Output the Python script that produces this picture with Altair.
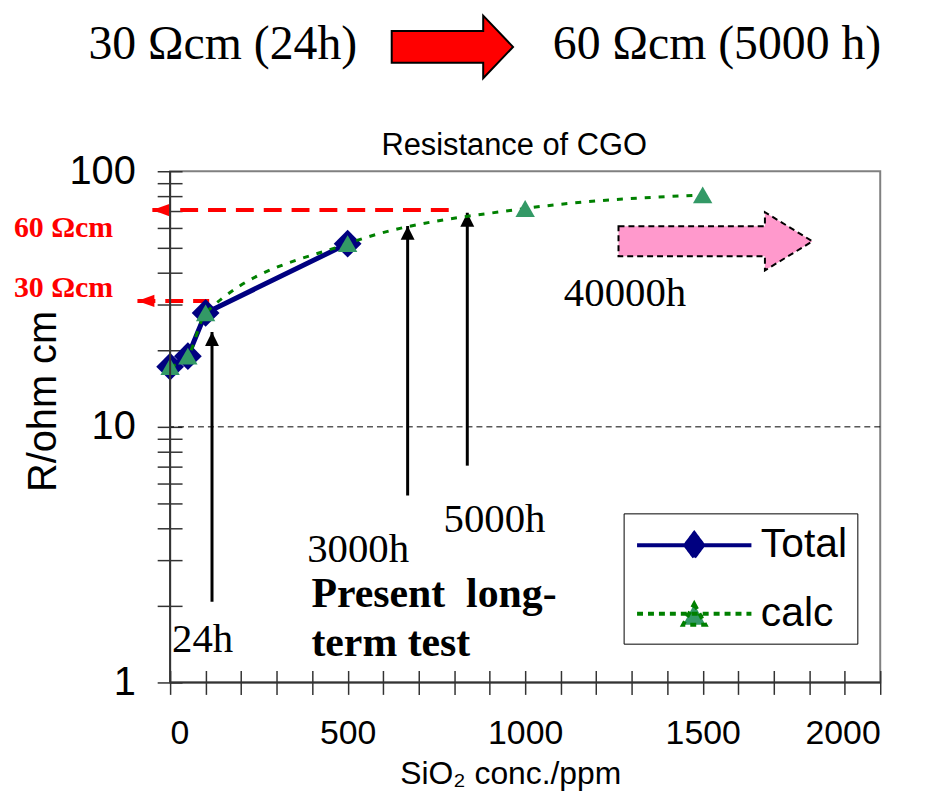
import altair as alt
import pandas as pd

# ---------------- data ----------------
total_x = [0, 50, 100, 500]
total_y = [17.2, 18.9, 27.9, 52.1]
calc_x = [0, 50, 100, 500, 1000, 1500]
calc_y = [17.2, 18.9, 27.9, 52.1, 71.5, 80.8]
series_names = ["Total", "calc"]

x_ticks = list(range(0, 2001, 100))
x_label_values = [0, 500, 1000, 1500, 2000]
y_ticks = [1, 2, 3, 4, 5, 6, 7, 8, 9, 10, 20, 30, 40, 50, 60, 70, 80, 90, 100]
y_label_values = [1, 10, 100]

# red dashed reference levels (labelled 60 / 30 Ohm cm)
ref_level = [70.5, 31.1]
ref_start = [-50, -92]
ref_end = [795, 110]
ref_text = ["60 Ωcm", "30 Ωcm"]
ref_text_x = [-440, -440]
ref_text_y = [55.4, 32.3]

# black vertical arrows (test durations)
arrow_x = [118, 669, 837]
arrow_tip = [23.5, 61.1, 68.8]
arrow_base = [2.07, 5.39, 7.05]

# annotation texts
ann_text = ["24h", "3000h", "5000h", "40000h"]
ann_x = [5.6, 386, 770, 1109]
ann_y = [1.32, 2.957, 3.87, 29.8]
bold_text = ["Present\u00a0 long-", "term test"]
bold_x = [398, 398]
bold_y = [1.975, 1.274]
header_text = ["30 Ωcm (24h)", "60 Ωcm (5000 h)"]
header_x = [-230, 1078]
header_y = [275, 275]
title_text = ["Resistance of CGO"]
title_x = [969]
title_y = [115.4]

# block arrows
pink_arrow_x = [1536]
pink_arrow_y = [53.2]
red_arrow_x = [795]
red_arrow_y = [306.5]

# ---------------- shapes ----------------
RED_ARROW = "M -1 -0.262 L 0.508 -0.262 L 0.508 -0.516 L 1 0 L 0.508 0.516 L 0.508 0.262 L -1 0.262 Z"
PINK_ARROW = "M -1 -0.155 L 0.51 -0.155 L 0.51 -0.30 L 1 0 L 0.51 0.30 L 0.51 0.155 L -1 0.155 Z"
UP_HEAD = "M 0 0 L 0.5 1 L -0.5 1 Z"
LEFT_HEAD = "M 0 0 L 1 -0.36 L 1 0.36 Z"
LEG_TOTAL = "M -2.875 0 L 2.875 0 M 0 -0.6 L 0.45 0 L 0 0.6 L -0.45 0 Z"
LEG_CALC = "M -2.875 0 L 2.875 0 M 0 -0.5 L 0.56 0.55 L -0.56 0.55 Z"

SERIF = "Liberation Serif"
SANS = "Liberation Sans"

total_df = pd.DataFrame({"x": total_x, "y": total_y})
calc_df = pd.DataFrame({"x": calc_x, "y": calc_y})
ref_df = pd.DataFrame({"lvl": ref_level, "x0": ref_start, "x1": ref_end,
                       "t": ref_text, "tx": ref_text_x, "ty": ref_text_y})
arr_df = pd.DataFrame({"x": arrow_x, "tip": arrow_tip, "base": arrow_base})
ann_df = pd.DataFrame({"t": ann_text, "x": ann_x, "y": ann_y})
bold_df = pd.DataFrame({"t": bold_text, "x": bold_x, "y": bold_y})
head_df = pd.DataFrame({"t": header_text, "x": header_x, "y": header_y})
title_df = pd.DataFrame({"t": title_text, "x": title_x, "y": title_y})
pink_df = pd.DataFrame({"x": pink_arrow_x, "y": pink_arrow_y})
red_df = pd.DataFrame({"x": red_arrow_x, "y": red_arrow_y})
leg_df = pd.DataFrame({"x": total_x[:2], "y": total_y[:2], "s": series_names})

xs = alt.Scale(domain=[0, 2000], nice=False)
ys = alt.Scale(type="log", domain=[1, 100], nice=False)

x_axis = alt.Axis(values=x_ticks, format="d",
                  labelExpr="datum.value % 500 == 0 ? datum.label : ''",
                  title="SiO₂ conc./ppm", grid=False, domain=False,
                  offset=-12, tickSize=24, tickColor="#333333", tickWidth=1.5,
                  labelFont=SANS, labelFontSize=34, labelColor="black", labelPadding=22,
                  titleFont=SANS, titleFontSize=32, titleFontWeight="normal",
                  titleColor="black", titlePadding=9, titleX=342)
y_axis = alt.Axis(values=y_ticks, format="d",
                  labelExpr="(datum.value == 1 || datum.value == 10 || datum.value == 100) ? datum.label : ''",
                  title="R/ohm cm", grid=False, domain=False,
                  offset=-12, tickSize=25, tickColor="#333333", tickWidth=1.5,
                  labelFont=SANS, labelFontSize=40, labelColor="black", labelPadding=22,
                  titleFont=SANS, titleFontSize=40, titleFontWeight="normal",
                  titleColor="black", titlePadding=6, titleY=231)

X = lambda f="x": alt.X(f, type="quantitative", scale=xs, axis=x_axis)
Y = lambda f="y": alt.Y(f, type="quantitative", scale=ys, axis=y_axis)

# axis lines and dashed gridline at 10
left_line = alt.Chart().mark_rule(color="#333333", strokeWidth=2).encode(
    x=alt.datum(0, scale=xs, axis=x_axis), y=alt.datum(1, scale=ys, axis=y_axis), y2=alt.datum(100))
bottom_line = alt.Chart().mark_rule(color="#333333", strokeWidth=2).encode(
    y=alt.datum(1, scale=ys, axis=y_axis), x=alt.datum(0, scale=xs, axis=x_axis), x2=alt.datum(2000))
grid10 = alt.Chart().mark_rule(color="black", strokeWidth=1, strokeDash=[6, 4]).encode(
    y=alt.datum(10, scale=ys, axis=y_axis))

# red reference lines + heads + labels
ref_lines = alt.Chart(ref_df).mark_rule(color="#ff0000", strokeWidth=4, strokeDash=[18, 10]).encode(
    x=X("x0"), x2="x1", y=Y("lvl"))
ref_heads = alt.Chart(ref_df).mark_point(shape=LEFT_HEAD, size=1156, filled=True,
                                         color="#ff0000", opacity=1).encode(x=X("x0"), y=Y("lvl"))
ref_labels = alt.Chart(ref_df).mark_text(font=SERIF, fontSize=30, fontWeight="bold", color="#ff0000",
                                         align="left", baseline="alphabetic").encode(
    x=X("tx"), y=Y("ty"), text="t:N")

# black arrows
arr_lines = alt.Chart(arr_df).mark_rule(color="black", strokeWidth=3).encode(
    x=X("x"), y=Y("base"), y2="tip")
arr_heads = alt.Chart(arr_df).mark_point(shape=UP_HEAD, size=784, filled=True,
                                         color="black", opacity=1).encode(x=X("x"), y=Y("tip"))

# series
total_line = alt.Chart(total_df).mark_line(color="#000080", strokeWidth=5).encode(x=X(), y=Y())
total_pts = alt.Chart(total_df).mark_point(shape="diamond", size=780, filled=True,
                                           color="#000080", opacity=1).encode(x=X(), y=Y())
calc_line = alt.Chart(calc_df).mark_line(color="#008000", strokeWidth=3, strokeDash=[6, 8],
                                         interpolate="monotone").encode(x=X(), y=Y())
calc_pts = alt.Chart(calc_df).mark_point(shape="triangle-up", size=380, filled=True,
                                         color="#339966", opacity=1).encode(x=X(), y=Y())

# block arrows
pink = alt.Chart(pink_df).mark_point(shape=PINK_ARROW, size=38025, filled=True, fill="#ff99cc",
                                     stroke="black", strokeWidth=2, strokeDash=[6, 4],
                                     opacity=1).encode(x=X(), y=Y())
red = alt.Chart(red_df).mark_point(shape=RED_ARROW, size=14884, filled=True, fill="#ff0000",
                                   stroke="black", strokeWidth=2, opacity=1).encode(x=X(), y=Y())

# texts
ann = alt.Chart(ann_df).mark_text(font=SERIF, fontSize=41, color="black", align="left",
                                  baseline="alphabetic").encode(x=X(), y=Y(), text="t:N")
bold = alt.Chart(bold_df).mark_text(font=SERIF, fontSize=42, fontWeight="bold", color="black",
                                    align="left", baseline="alphabetic").encode(x=X(), y=Y(), text="t:N")
header = alt.Chart(head_df).mark_text(font=SERIF, fontSize=48, color="black", align="left",
                                      baseline="alphabetic").encode(x=X(), y=Y(), text="t:N")
title = alt.Chart(title_df).mark_text(font=SANS, fontSize=31, color="black", align="center",
                                      baseline="alphabetic").encode(x=X(), y=Y(), text="t:N")

# legend carrier (invisible in plot)
legend_layer = alt.Chart(leg_df).mark_point(filled=True, opacity=0, size=10).encode(
    x=X(), y=Y(),
    fill=alt.Fill("s:N", title=None, scale=alt.Scale(domain=series_names, range=["#000080", "#339966"])),
    stroke=alt.Stroke("s:N", title=None, scale=alt.Scale(domain=series_names, range=["#000080", "#008000"])),
    shape=alt.Shape("s:N", title=None, scale=alt.Scale(domain=series_names, range=[LEG_TOTAL, LEG_CALC])),
    strokeDash=alt.StrokeDash("s:N", title=None, scale=alt.Scale(domain=series_names, range=[[1, 0], [6, 5]])),
)

chart = alt.layer(
    grid10, ref_lines, ref_heads, ref_labels, arr_lines, arr_heads,
    total_line, total_pts, calc_line, calc_pts, pink, red, ann, bold, header, title,
    left_line, bottom_line, legend_layer,
).properties(
    width=714, height=514,
    padding={"left": 163, "top": 162, "right": 40, "bottom": 107},
    autosize=alt.AutoSizeParams(type="none"),
    background="white",
).configure_view(
    stroke="#808080", strokeWidth=2
).configure_legend(
    orient="none", legendX=456, legendY=344,
    fillColor="white", strokeColor="black", padding=10,
    symbolSize=1600, symbolStrokeWidth=4, symbolOffset=39, symbolOpacity=1,
    labelFont=SANS, labelFontSize=41, labelColor="black", labelOffset=45,
    rowPadding=27, cornerRadius=0,
)

chart.save("out.html", embed_options={"renderer": "svg", "actions": False})
